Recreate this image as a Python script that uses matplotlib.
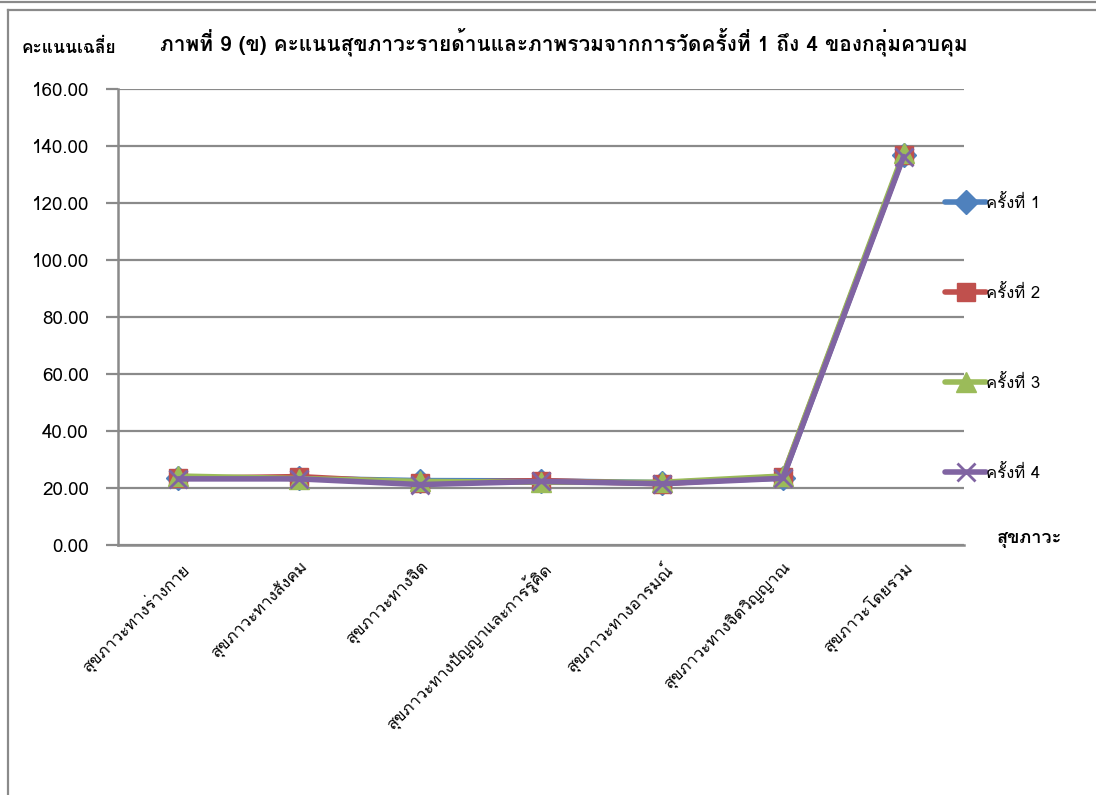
import numpy as np
import matplotlib
matplotlib.use('Agg')
import matplotlib.pyplot as plt
from matplotlib.lines import Line2D

plt.rcParams['font.family'] = ['Loma', 'DejaVu Sans']

categories = ['สุขภาวะทางร่างกาย', 'สุขภาวะทางสังคม', 'สุขภาวะทางจิต',
              'สุขภาวะทางปัญญาและการรู้คิด', 'สุขภาวะทางอารมณ์',
              'สุขภาวะทางจิตวิญญาณ', 'สุขภาวะโดยรวม']
round1 = [23.6, 23.4, 22.6, 22.5, 21.9, 23.5, 136.8]
round2 = [23.4, 24.0, 21.8, 22.6, 21.5, 24.0, 136.9]
round3 = [24.2, 23.3, 22.3, 22.0, 22.0, 24.2, 137.6]
round4 = [23.2, 23.2, 21.2, 22.3, 21.5, 23.4, 136.3]
series_names = ['ครั้งที่ 1', 'ครั้งที่ 2', 'ครั้งที่ 3', 'ครั้งที่ 4']
yticks = np.arange(0, 161, 20)

W, H = 1096, 795
fig = plt.figure(figsize=(W / 100, H / 100), dpi=100)

def px(x, y):
    return x / W, 1 - y / H

# outer frame
frame = dict(color='#8a8a8a', lw=1.6, transform=fig.transFigure)
fig.add_artist(Line2D([0, 1], [px(0, 2)[1]] * 2, **frame))
fig.add_artist(Line2D([px(8, 0)[0], 1], [px(0, 10)[1]] * 2, **frame))
fig.add_artist(Line2D([px(8, 0)[0]] * 2, [px(0, 10)[1], 0], **frame))

l, t = px(118, 89)
r, b = px(964, 545)
ax = fig.add_axes([l, b, r - l, t - b])

x = np.arange(len(categories))
styles = [('#4F81BD', 'D', 12), ('#C0504D', 's', 13), ('#9BBB59', '^', 14), ('#8064A2', 'x', 13)]
for vals, name, (c, m, ms) in zip([round1, round2, round3, round4], series_names, styles):
    ax.plot(x, vals, color=c, lw=4, marker=m, ms=ms, mew=2 if m == 'x' else 1,
            mec=c, mfc=c, label=name, solid_capstyle='round')

ax.set_xlim(-0.5, 6.5)
ax.set_ylim(0, 160)
ax.set_yticks(yticks)
ax.set_yticklabels(['%.2f' % v for v in yticks], fontsize=13.5)
ax.yaxis.grid(True, color='#8a8a8a', lw=1.6)
ax.set_axisbelow(True)
ax.tick_params(axis='y', length=9, width=1.6, color='#8a8a8a', pad=12)
ax.tick_params(axis='x', length=0, pad=10)
ax.set_xticks(x)
ax.set_xticklabels(categories, rotation=45, ha='right', rotation_mode='anchor', fontsize=12)
for s in ['top', 'right']:
    ax.spines[s].set_visible(False)
for s in ['left', 'bottom']:
    ax.spines[s].set_color('#8a8a8a')
    ax.spines[s].set_linewidth(1.8)

fig.text(*px(564, 42), 'ภาพที่ 9 (ข) คะแนนสุขภาวะรายด้านและภาพรวมจากการวัดครั้งที่ 1 ถึง 4 ของกลุ่มควบคุม',
         ha='center', va='center', fontsize=15, fontweight='bold')
fig.text(*px(22, 47), 'คะแนนเฉลี่ย', ha='left', va='center', fontsize=12.5, fontweight='bold')
fig.text(*px(997, 539), 'สุขภาวะ', ha='left', va='center', fontsize=13, fontweight='bold')

leg = ax.legend(loc='upper left', bbox_to_anchor=px(938, 188), bbox_transform=fig.transFigure,
                frameon=False, fontsize=12, handlelength=2.5, handletextpad=0.0,
                labelspacing=4.38, numpoints=1, borderaxespad=0)

fig.savefig('out.png', dpi=100)
